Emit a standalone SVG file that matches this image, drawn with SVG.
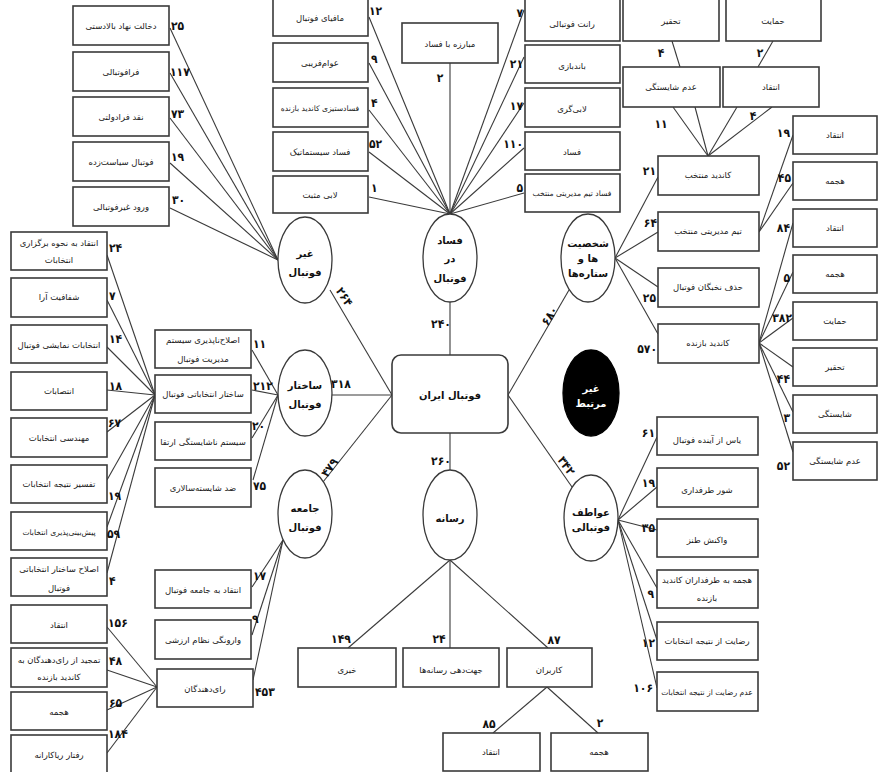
<svg xmlns="http://www.w3.org/2000/svg" width="879" height="772" viewBox="0 0 879 772">
<style>
.bx{fill:#fff;stroke:#3a3a3a;stroke-width:1.6}
.el{fill:#fff;stroke:#3a3a3a;stroke-width:1.3}
.blk{fill:#000;stroke:#000;stroke-width:1.3}
.t{font-family:"DejaVu Sans",sans-serif;font-size:8.5px;fill:#1a1a1a;text-anchor:middle}
.sm{font-size:7.6px}
.et{font-family:"DejaVu Sans",sans-serif;font-size:10px;font-weight:bold;fill:#111;text-anchor:middle}
.wt{fill:#fff}
.n{font-family:"DejaVu Sans Condensed","DejaVu Sans",sans-serif;font-size:12px;font-weight:bold;fill:#111}
.s{text-anchor:start}.m{text-anchor:middle}.e{text-anchor:end}
#connectors line{stroke:#3a3a3a;stroke-width:1.1;fill:none}
</style>
<rect width="879" height="772" fill="#fff"/>
<g id="connectors">
<!-- main -->
<line x1="450" y1="302" x2="450" y2="355"/>
<line x1="330" y1="290" x2="392" y2="395"/>
<line x1="332" y1="395" x2="392" y2="395"/>
<line x1="392" y1="395" x2="323" y2="482"/>
<line x1="569" y1="290" x2="508" y2="395"/>
<line x1="508" y1="395" x2="572" y2="487"/>
<line x1="450" y1="433" x2="450" y2="472"/>
<!-- gheir football -->
<line x1="170" y1="28" x2="278" y2="260"/>
<line x1="170" y1="73" x2="278" y2="260"/>
<line x1="170" y1="118" x2="278" y2="260"/>
<line x1="170" y1="163" x2="278" y2="260"/>
<line x1="170" y1="208" x2="278" y2="260"/>
<!-- fesad -->
<line x1="369" y1="17" x2="450" y2="214"/>
<line x1="369" y1="63" x2="450" y2="214"/>
<line x1="369" y1="110" x2="450" y2="214"/>
<line x1="369" y1="152" x2="450" y2="214"/>
<line x1="369" y1="197" x2="450" y2="214"/>
<line x1="450" y1="63" x2="450" y2="214"/>
<line x1="524" y1="10" x2="450" y2="214"/>
<line x1="524" y1="57" x2="450" y2="214"/>
<line x1="524" y1="103" x2="450" y2="214"/>
<line x1="524" y1="148" x2="450" y2="214"/>
<line x1="524" y1="193" x2="450" y2="214"/>
<!-- shakhsiat -->
<line x1="615" y1="258" x2="658" y2="177"/>
<line x1="615" y1="258" x2="658" y2="232"/>
<line x1="615" y1="258" x2="658" y2="287"/>
<line x1="615" y1="258" x2="658" y2="334"/>
<line x1="672" y1="41" x2="680" y2="67"/>
<line x1="773" y1="41" x2="758" y2="67"/>
<line x1="673" y1="107" x2="708" y2="156"/>
<line x1="695" y1="107" x2="708" y2="156"/>
<line x1="737" y1="107" x2="708" y2="156"/>
<line x1="772" y1="107" x2="708" y2="156"/>
<line x1="759" y1="232" x2="793" y2="135"/>
<line x1="759" y1="232" x2="793" y2="183"/>
<line x1="759" y1="343" x2="793" y2="223"/>
<line x1="759" y1="343" x2="793" y2="272"/>
<line x1="759" y1="343" x2="793" y2="318"/>
<line x1="759" y1="343" x2="793" y2="367"/>
<line x1="759" y1="343" x2="793" y2="412"/>
<line x1="759" y1="343" x2="793" y2="452"/>
<!-- sakhtar -->
<line x1="252" y1="350" x2="278" y2="395"/>
<line x1="252" y1="390" x2="278" y2="395"/>
<line x1="252" y1="438" x2="278" y2="395"/>
<line x1="253" y1="480" x2="278" y2="395"/>
<line x1="107" y1="255" x2="155" y2="395"/>
<line x1="107" y1="300" x2="155" y2="395"/>
<line x1="107" y1="347" x2="155" y2="395"/>
<line x1="107" y1="390" x2="155" y2="395"/>
<line x1="107" y1="432" x2="155" y2="395"/>
<line x1="107" y1="480" x2="155" y2="395"/>
<line x1="107" y1="527" x2="155" y2="395"/>
<line x1="107" y1="573" x2="155" y2="395"/>
<!-- jameh -->
<line x1="283" y1="540" x2="252" y2="587"/>
<line x1="283" y1="540" x2="252" y2="635"/>
<line x1="283" y1="540" x2="253" y2="680"/>
<line x1="107" y1="627" x2="157" y2="687"/>
<line x1="107" y1="670" x2="157" y2="687"/>
<line x1="107" y1="710" x2="157" y2="687"/>
<line x1="107" y1="753" x2="157" y2="687"/>
<!-- resaneh -->
<line x1="450" y1="560" x2="348" y2="648"/>
<line x1="450" y1="560" x2="450" y2="648"/>
<line x1="450" y1="560" x2="548" y2="648"/>
<line x1="547" y1="687" x2="493" y2="733"/>
<line x1="547" y1="687" x2="598" y2="733"/>
<!-- avatef -->
<line x1="618" y1="520" x2="657" y2="437"/>
<line x1="618" y1="520" x2="657" y2="487"/>
<line x1="618" y1="520" x2="657" y2="530"/>
<line x1="618" y1="520" x2="657" y2="588"/>
<line x1="618" y1="520" x2="657" y2="640"/>
<line x1="618" y1="520" x2="657" y2="688"/>
</g>

<!-- main nodes -->
<g id="n-main"><rect class="bx" x="392" y="355" width="116" height="78" rx="9"/><text class="et" x="450" y="399">فوتبال ایران</text></g>
<g id="n-gheir"><ellipse class="el" cx="305" cy="260" rx="27" ry="43"/><text class="et" x="305" y="257">غیر</text><text class="et" x="305" y="276">فوتبال</text></g>
<g id="n-fesad"><ellipse class="el" cx="450" cy="258" rx="27" ry="44"/><text class="et" x="450" y="244">فساد</text><text class="et" x="450" y="262">در</text><text class="et" x="450" y="282">فوتبال</text></g>
<g id="n-shakhsiat"><ellipse class="el" cx="588" cy="258" rx="27" ry="44"/><text class="et" x="588" y="247">شخصیت</text><text class="et" x="588" y="262">ها و</text><text class="et" x="588" y="277">ستاره‌ها</text></g>
<g id="n-sakhtar"><ellipse class="el" cx="305" cy="393" rx="27" ry="43"/><text class="et" x="305" y="389">ساختار</text><text class="et" x="305" y="408">فوتبال</text></g>
<g id="n-jameh"><ellipse class="el" cx="305" cy="514" rx="27" ry="44"/><text class="et" x="305" y="512">جامعه</text><text class="et" x="305" y="531">فوتبال</text></g>
<g id="n-resaneh"><ellipse class="el" cx="450" cy="515" rx="27" ry="45"/><text class="et" x="450" y="522">رسانه</text></g>
<g id="n-avatef"><ellipse class="el" cx="591" cy="518" rx="27" ry="43"/><text class="et" x="591" y="516">عواطف</text><text class="et" x="591" y="531">فوتبالی</text></g>
<g id="n-nonrel"><ellipse class="blk" cx="591" cy="393" rx="28" ry="43"/><text class="et wt" x="591" y="392">غیر</text><text class="et wt" x="591" y="407">مرتبط</text></g>

<!-- gheir football children -->
<g id="g1"><rect class="bx" x="73" y="6" width="96" height="39"/><text class="t" x="121" y="29">دخالت نهاد بالادستی</text></g>
<g id="g2"><rect class="bx" x="73" y="52" width="96" height="39"/><text class="t" x="121" y="75">فرافوتبالی</text></g>
<g id="g3"><rect class="bx" x="73" y="97" width="96" height="39"/><text class="t" x="121" y="120">نقد فرادولتی</text></g>
<g id="g4"><rect class="bx" x="73" y="142" width="96" height="39"/><text class="t" x="121" y="165">فوتبال سیاست‌زده</text></g>
<g id="g5"><rect class="bx" x="73" y="187" width="96" height="39"/><text class="t" x="121" y="210">ورود غیرفوتبالی</text></g>

<!-- fesad children -->
<g id="f1"><rect class="bx" x="273" y="-5" width="95" height="41"/><text class="t" x="320" y="21">مافیای فوتبال</text></g>
<g id="f2"><rect class="bx" x="273" y="43" width="95" height="39"/><text class="t" x="320" y="66">عوام‌فریبی</text></g>
<g id="f3"><rect class="bx" x="273" y="88" width="95" height="39"/><text class="t sm" x="320" y="111">فسادستیزی کاندید بازنده</text></g>
<g id="f4"><rect class="bx" x="273" y="132" width="95" height="39"/><text class="t" x="320" y="155">فساد سیستماتیک</text></g>
<g id="f5"><rect class="bx" x="273" y="176" width="95" height="37"/><text class="t" x="320" y="198">لابی مثبت</text></g>
<g id="f6"><rect class="bx" x="402" y="23" width="96" height="40"/><text class="t" x="450" y="47">مبارزه با فساد</text></g>
<g id="f7"><rect class="bx" x="525" y="-5" width="95" height="46"/><text class="t" x="572" y="27">رانت فوتبالی</text></g>
<g id="f8"><rect class="bx" x="525" y="45" width="95" height="38"/><text class="t" x="572" y="69">باندبازی</text></g>
<g id="f9"><rect class="bx" x="525" y="88" width="95" height="39"/><text class="t" x="572" y="112">لابی‌گری</text></g>
<g id="f10"><rect class="bx" x="525" y="132" width="95" height="38"/><text class="t" x="572" y="155">فساد</text></g>
<g id="f11"><rect class="bx" x="525" y="174" width="95" height="38"/><text class="t sm" x="572" y="196">فساد تیم مدیریتی منتخب</text></g>

<!-- shakhsiat children -->
<g id="s1"><rect class="bx" x="623" y="-5" width="96" height="46"/><text class="t" x="671" y="24">تحقیر</text></g>
<g id="s2"><rect class="bx" x="726" y="-5" width="95" height="46"/><text class="t" x="773" y="24">حمایت</text></g>
<g id="s3"><rect class="bx" x="623" y="67" width="97" height="40"/><text class="t" x="671" y="90">عدم شایستگی</text></g>
<g id="s4"><rect class="bx" x="723" y="67" width="96" height="40"/><text class="t" x="771" y="90">انتقاد</text></g>
<g id="s5"><rect class="bx" x="658" y="156" width="101" height="39"/><text class="t" x="708" y="178">کاندید منتخب</text></g>
<g id="s6"><rect class="bx" x="658" y="212" width="101" height="39"/><text class="t" x="708" y="234">تیم مدیریتی منتخب</text></g>
<g id="s7"><rect class="bx" x="658" y="268" width="101" height="39"/><text class="t" x="708" y="290">حذف نخبگان فوتبال</text></g>
<g id="s8"><rect class="bx" x="658" y="324" width="101" height="39"/><text class="t" x="708" y="346">کاندید بازنده</text></g>
<g id="r1"><rect class="bx" x="793" y="116" width="84" height="38"/><text class="t" x="835" y="138">انتقاد</text></g>
<g id="r2"><rect class="bx" x="793" y="162" width="84" height="38"/><text class="t" x="835" y="184">هجمه</text></g>
<g id="r3"><rect class="bx" x="793" y="209" width="84" height="38"/><text class="t" x="835" y="231">انتقاد</text></g>
<g id="r4"><rect class="bx" x="793" y="255" width="84" height="38"/><text class="t" x="835" y="277">هجمه</text></g>
<g id="r5"><rect class="bx" x="793" y="302" width="84" height="38"/><text class="t" x="835" y="324">حمایت</text></g>
<g id="r6"><rect class="bx" x="793" y="348" width="84" height="38"/><text class="t" x="835" y="370">تحقیر</text></g>
<g id="r7"><rect class="bx" x="793" y="395" width="84" height="38"/><text class="t" x="835" y="417">شایستگی</text></g>
<g id="r8"><rect class="bx" x="793" y="442" width="84" height="38"/><text class="t" x="835" y="464">عدم شایستگی</text></g>

<!-- sakhtar children -->
<g id="k1"><rect class="bx" x="155" y="330" width="96" height="38"/><text class="t" x="203" y="343">اصلاح‌ناپذیری سیستم</text><text class="t" x="203" y="362">مدیریت فوتبال</text></g>
<g id="k2"><rect class="bx" x="155" y="375" width="96" height="38"/><text class="t" x="203" y="397">ساختار انتخاباتی فوتبال</text></g>
<g id="k3"><rect class="bx" x="155" y="422" width="96" height="38"/><text class="t" x="203" y="445">سیستم ناشایستگی ارتقا</text></g>
<g id="k4"><rect class="bx" x="155" y="468" width="96" height="39"/><text class="t" x="203" y="491">ضد شایسته‌سالاری</text></g>
<g id="l1"><rect class="bx" x="11" y="232" width="96" height="38"/><text class="t" x="59" y="246">انتقاد به نحوه برگزاری</text><text class="t" x="59" y="263">انتخابات</text></g>
<g id="l2"><rect class="bx" x="11" y="278" width="96" height="39"/><text class="t" x="59" y="300">شفافیت آرا</text></g>
<g id="l3"><rect class="bx" x="11" y="325" width="96" height="38"/><text class="t" x="59" y="348">انتخابات نمایشی فوتبال</text></g>
<g id="l4"><rect class="bx" x="11" y="372" width="96" height="38"/><text class="t" x="59" y="394">انتصابات</text></g>
<g id="l5"><rect class="bx" x="11" y="418" width="96" height="39"/><text class="t" x="59" y="441">مهندسی انتخابات</text></g>
<g id="l6"><rect class="bx" x="11" y="465" width="96" height="38"/><text class="t" x="59" y="487">تفسیر نتیجه انتخابات</text></g>
<g id="l7"><rect class="bx" x="11" y="512" width="96" height="38"/><text class="t sm" x="59" y="535">پیش‌بینی‌پذیری انتخابات</text></g>
<g id="l8"><rect class="bx" x="11" y="558" width="96" height="38"/><text class="t" x="59" y="572">اصلاح ساختار انتخاباتی</text><text class="t" x="59" y="591">فوتبال</text></g>

<!-- jameh children -->
<g id="j1"><rect class="bx" x="155" y="570" width="96" height="38"/><text class="t" x="203" y="593">انتقاد به جامعه فوتبال</text></g>
<g id="j2"><rect class="bx" x="155" y="620" width="96" height="39"/><text class="t" x="203" y="643">وارونگی نظام ارزشی</text></g>
<g id="j3"><rect class="bx" x="157" y="669" width="96" height="38"/><text class="t" x="205" y="692">رای‌دهندگان</text></g>
<g id="v1"><rect class="bx" x="11" y="605" width="96" height="38"/><text class="t" x="59" y="628">انتقاد</text></g>
<g id="v2"><rect class="bx" x="11" y="648" width="96" height="39"/><text class="t" x="59" y="663">تمجید از رای‌دهندگان به</text><text class="t" x="59" y="680">کاندید بازنده</text></g>
<g id="v3"><rect class="bx" x="11" y="692" width="96" height="38"/><text class="t" x="59" y="715">هجمه</text></g>
<g id="v4"><rect class="bx" x="11" y="735" width="96" height="45"/><text class="t" x="59" y="758">رفتار ریاکارانه</text></g>

<!-- resaneh children -->
<g id="m1"><rect class="bx" x="298" y="648" width="98" height="39"/><text class="t" x="347" y="673">خبری</text></g>
<g id="m2"><rect class="bx" x="403" y="648" width="96" height="39"/><text class="t" x="451" y="673">جهت‌دهی رسانه‌ها</text></g>
<g id="m3"><rect class="bx" x="507" y="648" width="85" height="39"/><text class="t" x="549" y="673">کاربران</text></g>
<g id="m4"><rect class="bx" x="443" y="733" width="97" height="38"/><text class="t" x="491" y="755">انتقاد</text></g>
<g id="m5"><rect class="bx" x="551" y="733" width="97" height="38"/><text class="t" x="599" y="755">هجمه</text></g>

<!-- avatef children -->
<g id="a1"><rect class="bx" x="657" y="417" width="101" height="38"/><text class="t" x="707" y="443">یاس از آینده فوتبال</text></g>
<g id="a2"><rect class="bx" x="657" y="468" width="101" height="39"/><text class="t" x="707" y="493">شور طرفداری</text></g>
<g id="a3"><rect class="bx" x="657" y="519" width="101" height="38"/><text class="t" x="707" y="543">واکنش طنز</text></g>
<g id="a4"><rect class="bx" x="657" y="570" width="101" height="38"/><text class="t" x="707" y="583">هجمه به طرفداران کاندید</text><text class="t" x="707" y="601">بازنده</text></g>
<g id="a5"><rect class="bx" x="657" y="622" width="101" height="38"/><text class="t" x="707" y="644">رضایت از نتیجه انتخابات</text></g>
<g id="a6"><rect class="bx" x="657" y="672" width="101" height="39"/><text class="t sm" x="707" y="695">عدم رضایت از نتیجه انتخابات</text></g>

<g id="labels">
<text class="n m" x="441" y="328">۲۴۰</text>
<text class="n m" x="441" y="465">۲۶۰</text>
<text class="n m" x="341" y="388">۳۱۸</text>
<text class="n m" transform="translate(341,299) rotate(57)">۲۶۴</text>
<text class="n m" transform="translate(553,318) rotate(-58)">۶۸۰</text>
<text class="n m" transform="translate(333,470) rotate(-55)">۴۷۹</text>
<text class="n m" transform="translate(563,468) rotate(55)">۳۴۲</text>
<text class="n s" x="171" y="30">۲۵</text>
<text class="n s" x="170" y="76">۱۱۷</text>
<text class="n s" x="171" y="118">۷۳</text>
<text class="n s" x="171" y="161">۱۹</text>
<text class="n s" x="172" y="204">۳۰</text>
<text class="n s" x="369" y="15">۱۲</text>
<text class="n s" x="371" y="63">۹</text>
<text class="n s" x="371" y="107">۴</text>
<text class="n s" x="369" y="148">۵۲</text>
<text class="n s" x="371" y="192">۱</text>
<text class="n m" x="440" y="82">۲</text>
<text class="n e" x="523" y="17">۷</text>
<text class="n e" x="523" y="68">۲۱</text>
<text class="n e" x="523" y="110">۱۷</text>
<text class="n e" x="523" y="148">۱۱۰</text>
<text class="n e" x="523" y="192">۵</text>
<text class="n m" x="661" y="57">۴</text>
<text class="n m" x="760" y="57">۲</text>
<text class="n m" x="661" y="128">۱۱</text>
<text class="n m" x="753" y="120">۴</text>
<text class="n e" x="656" y="175">۲۱</text>
<text class="n e" x="657" y="227">۶۴</text>
<text class="n e" x="656" y="302">۲۵</text>
<text class="n e" x="657" y="353">۵۷۰</text>
<text class="n e" x="790" y="137">۱۹</text>
<text class="n e" x="791" y="182">۴۵</text>
<text class="n e" x="790" y="232">۸۴</text>
<text class="n e" x="790" y="282">۵</text>
<text class="n e" x="792" y="322">۳۸۲</text>
<text class="n e" x="790" y="383">۴۴</text>
<text class="n e" x="790" y="422">۳</text>
<text class="n e" x="790" y="470">۵۲</text>
<text class="n s" x="253" y="348">۱۱</text>
<text class="n s" x="253" y="390">۲۱۲</text>
<text class="n s" x="252" y="430">۲۰</text>
<text class="n s" x="253" y="490">۷۵</text>
<text class="n s" x="109" y="252">۲۴</text>
<text class="n s" x="109" y="300">۷</text>
<text class="n s" x="109" y="343">۱۴</text>
<text class="n s" x="109" y="390">۱۸</text>
<text class="n s" x="108" y="427">۶۷</text>
<text class="n s" x="108" y="500">۱۹</text>
<text class="n s" x="107" y="538">۵۹</text>
<text class="n s" x="109" y="585">۴</text>
<text class="n s" x="253" y="580">۱۷</text>
<text class="n s" x="252" y="623">۹</text>
<text class="n s" x="255" y="696">۴۵۳</text>
<text class="n s" x="108" y="627">۱۵۶</text>
<text class="n s" x="109" y="665">۴۸</text>
<text class="n s" x="109" y="707">۶۵</text>
<text class="n s" x="108" y="738">۱۸۴</text>
<text class="n m" x="341" y="643">۱۴۹</text>
<text class="n m" x="439" y="643">۲۴</text>
<text class="n m" x="554" y="644">۸۷</text>
<text class="n m" x="489" y="728">۸۵</text>
<text class="n m" x="600" y="727">۲</text>
<text class="n e" x="655" y="437">۶۱</text>
<text class="n e" x="655" y="487">۱۹</text>
<text class="n e" x="655" y="532">۳۵</text>
<text class="n e" x="654" y="598">۹</text>
<text class="n e" x="655" y="647">۱۲</text>
<text class="n e" x="653" y="692">۱۰۶</text>
</g>
</svg>
